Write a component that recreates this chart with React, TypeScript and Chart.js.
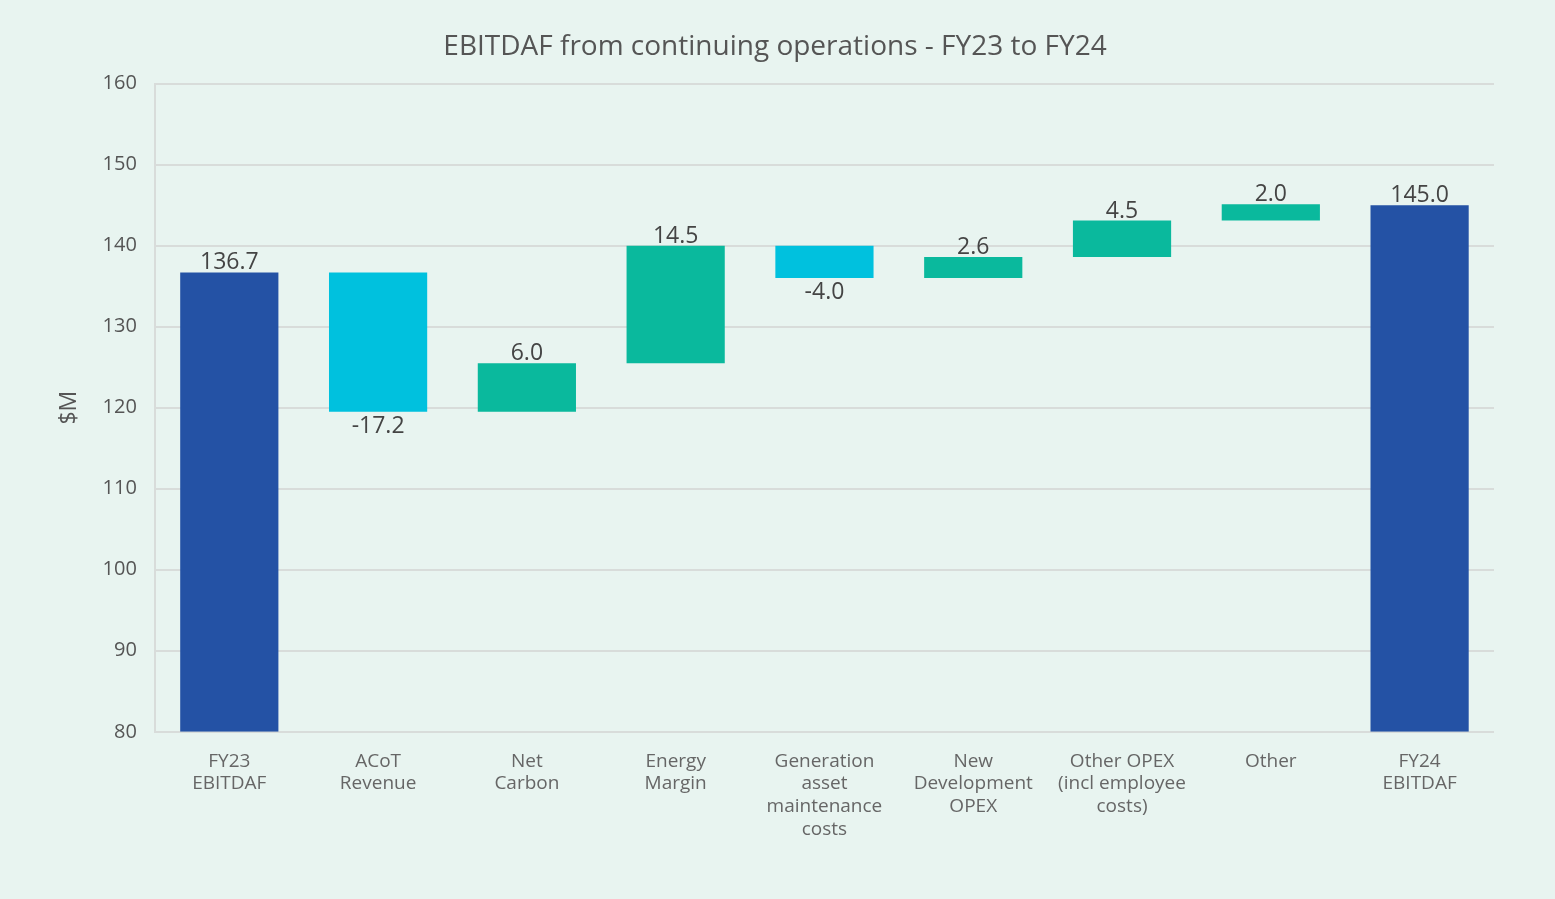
import React, { useEffect, useRef } from "react";
import { Chart, registerables } from "chart.js";

Chart.register(...registerables);

const categories: string[][] = [
  ["FY23", "EBITDAF"],
  ["ACoT", "Revenue"],
  ["Net", "Carbon"],
  ["Energy", "Margin"],
  ["Generation", "asset", "maintenance", "costs"],
  ["New", "Development", "OPEX"],
  ["Other OPEX", "(incl employee", "costs)"],
  ["Other"],
  ["FY24", "EBITDAF"],
];
const startValue = 136.7;
const deltas = [-17.2, 6.0, 14.5, -4.0, 2.6, 4.5, 2.0];
const endValue = 145.0;
const axisMin = 80;
const labels = ["136.7", "-17.2", "6.0", "14.5", "-4.0", "2.6", "4.5", "2.0", "145.0"];

const COLOR_TOTAL = "#2452a5";
const COLOR_NEG = "#00c1de";
const COLOR_POS = "#0ab99d";
const FONT = "'Open Sans', sans-serif";

export default function App() {
  const ref = useRef<HTMLCanvasElement | null>(null);
  useEffect(() => {
    if (!ref.current) return;
    const ranges: [number, number][] = [];
    const colors: string[] = [];
    ranges.push([axisMin, startValue]);
    colors.push(COLOR_TOTAL);
    let cur = startValue;
    for (const d of deltas) {
      const next = cur + d;
      ranges.push([Math.min(cur, next), Math.max(cur, next)]);
      colors.push(d < 0 ? COLOR_NEG : COLOR_POS);
      cur = next;
    }
    ranges.push([axisMin, endValue]);
    colors.push(COLOR_TOTAL);
    const isNeg = [false, ...deltas.map((d) => d < 0), false];

    const labelPlugin = {
      id: "wfLabels",
      afterDatasetsDraw(chart: any) {
        const ctx = chart.ctx;
        const meta = chart.getDatasetMeta(0);
        const y = chart.scales.y;
        ctx.save();
        ctx.font = "23px " + FONT;
        ctx.fillStyle = "#444";
        ctx.textAlign = "center";
        meta.data.forEach((bar: any, i: number) => {
          const r = ranges[i];
          if (isNeg[i]) {
            ctx.textBaseline = "top";
            ctx.fillText(labels[i], bar.x, y.getPixelForValue(r[0]) + 3);
          } else {
            ctx.textBaseline = "bottom";
            ctx.fillText(labels[i], bar.x, y.getPixelForValue(r[1]) + 2);
          }
        });
        ctx.restore();
      },
    };

    const chart = new Chart(ref.current, {
      type: "bar",
      data: {
        labels: categories,
        datasets: [
          {
            data: ranges as any,
            backgroundColor: colors,
            borderWidth: 0,
            barPercentage: 0.66,
            categoryPercentage: 1,
          },
        ],
      },
      options: {
        responsive: false,
        animation: false,
        layout: { padding: { left: 56, right: 61, top: 20, bottom: 40 } },
        plugins: {
          legend: { display: false },
          tooltip: { enabled: false },
          title: {
            display: true,
            text: "EBITDAF from continuing operations - FY23 to FY24",
            color: "#555",
            font: { family: FONT, size: 28, weight: "normal" as any },
            padding: { top: 10, bottom: 20 },
          },
        },
        scales: {
          x: {
            grid: { display: false, drawTicks: false },
            border: { display: false },
            ticks: {
              color: "#666",
              font: { family: FONT, size: 19 },
              padding: 18,
              maxRotation: 0,
              autoSkip: false,
            },
          },
          y: {
            min: 80,
            max: 160,
            ticks: {
              stepSize: 10,
              color: "#555",
              font: { family: FONT, size: 20 },
              padding: 18,
            },
            grid: { color: "#d8dcda", lineWidth: 2, drawTicks: false },
            border: { display: true, color: "#d8dcda", width: 2 },
            title: {
              display: true,
              text: "$M",
              color: "#555",
              font: { family: FONT, size: 23 },
              padding: { top: 0, bottom: 1 },
            },
          },
        },
      },
      plugins: [labelPlugin],
    });
    return () => chart.destroy();
  }, []);
  return (
    <div style={{ position: "fixed", left: 0, top: 0, width: 1555, height: 899, background: "#e8f4f0" }}>
      <canvas ref={ref} width={1555} height={899} style={{ display: "block" }} />
    </div>
  );
}
